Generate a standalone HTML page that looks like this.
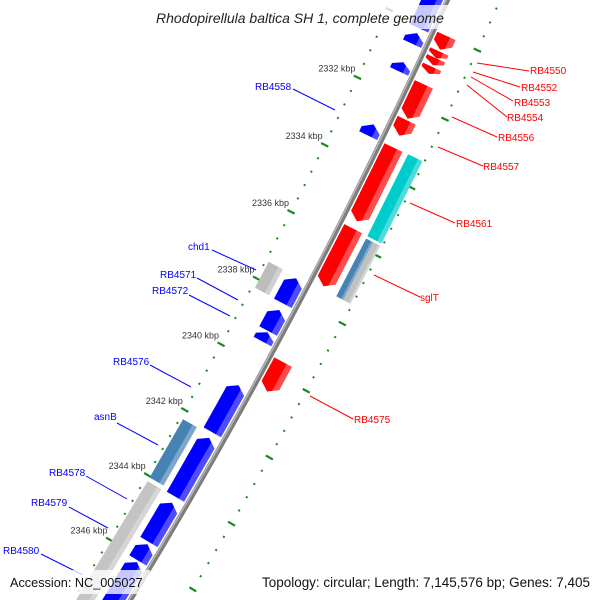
<!DOCTYPE html>
<html><head><meta charset="utf-8"><style>
html,body{margin:0;padding:0;background:#fff;width:600px;height:600px;overflow:hidden;}
svg{display:block;font-family:"Liberation Sans",sans-serif;overflow:hidden;}
</style></head><body>
<svg id="map" width="600" height="600" viewBox="0 0 600 600" xmlns="http://www.w3.org/2000/svg">
<g id="ticks"></g>
<g id="genes"></g>
<g id="backbone"></g>
<g id="labels"></g>
<rect x="138" y="5" width="324" height="24" fill="#fff" opacity="0.78"/>
<text x="300" y="23" text-anchor="middle" font-size="14" font-style="italic" fill="#222">Rhodopirellula baltica SH 1, complete genome</text>
<rect x="4" y="570" width="146" height="24" fill="#fff" opacity="0.78"/>
<text x="10" y="587" font-size="12.7" fill="#111">Accession: NC_005027</text>
<rect x="256" y="570" width="340" height="24" fill="#fff" opacity="0.78"/>
<text x="262" y="587" font-size="13.4" textLength="328" lengthAdjust="spacingAndGlyphs" fill="#111">Topology: circular; Length: 7,145,576 bp; Genes: 7,405</text>
</svg>
<script>
// data (kbp)
const fwdGenes = [[2330.0,2330.4],[2330.45,2330.65],[2330.65,2330.85],[2330.9,2331.1],[2331.41,2332.41],[2332.46,2332.91],[2333.26,2335.43],[2335.65,2337.36],[2339.63,2340.51]];
const revGenes = [[2328.5,2330.12],[2330.26,2330.57],[2331.11,2331.38],[2332.94,2333.27],[2337.51,2338.26],[2338.46,2339.09],[2339.13,2339.41],[2340.73,2342.16],[2342.33,2344.13],[2344.31,2345.52],[2345.59,2346.09],[2346.14,2347.8]];
const outerFeatStart = [2333.25, 2335.73, 2335.73];
const outerFeatEnd = [2335.66, 2337.44, 2337.44];
const outerFeatColor = ["#00cccc", "#4682b4", "#c0c0c0"];
const outerFeatBand = [0, 1, 2];
const innerFeatStart = [2337.46, 2342.24, 2344.14];
const innerFeatEnd = [2338.24, 2344.03, 2348.6];
const innerFeatColor = ["#bdbdbd", "#4682b4", "#c4c4c4"];
const tickLabels = [2332, 2334, 2336, 2338, 2340, 2342, 2344, 2346];
const labelNames = ["RB4550","RB4552","RB4553","RB4554","RB4556","RB4557","RB4561","sglT","RB4575","RB4558","chd1","RB4571","RB4572","RB4576","asnB","RB4578","RB4579","RB4580"];
const labelStrand = ["f","f","f","f","f","f","f","f","f","r","r","r","r","r","r","r","r","r"];

const NS='http://www.w3.org/2000/svg';
const CX=-4705, CY=-2340, R0=5659, TH0=0.4455, DTH=0.00668;
function th(k){return TH0+(k-2332)*DTH;}
function pt(k,r){const t=th(k);return [CX+r*Math.cos(t), CY+r*Math.sin(t)];}
function mk(tag,attrs,parent){const e=document.createElementNS(NS,tag);for(const a in attrs)e.setAttribute(a,attrs[a]);parent.appendChild(e);return e;}
function arcPath(k1,k2,r){let d='';const n=30;for(let i=0;i<=n;i++){const p=pt(k1+(k2-k1)*i/n,r);d+=(i?'L':'M')+p[0].toFixed(1)+' '+p[1].toFixed(1);}return d;}
function gene(k1,k2,r1,r2,dir,color,parent,name){
  const len=k2-k1, tip=Math.min(0.18,len*0.55);
  let pts=[];
  const rm=(r1+r2)/2;
  if(dir>0){pts=[pt(k1,r1),pt(k1,r2),pt(k2-tip,r2),pt(k2,rm),pt(k2-tip,r1)];}
  else if(dir<0){pts=[pt(k1,rm),pt(k1+tip,r2),pt(k2,r2),pt(k2,r1),pt(k1+tip,r1)];}
  else{pts=[pt(k1,r1),pt(k1,r2),pt(k2,r2),pt(k2,r1)];}
  const e=mk('polygon',{points:pts.map(p=>p[0].toFixed(1)+','+p[1].toFixed(1)).join(' '),fill:color},parent);
  
  
  const hr1=r2-(r2-r1)*0.3;
  let hp;
  if(dir>0) hp=[pt(k1,hr1),pt(k1,r2),pt(k2-tip,r2),pt(k2-tip*0.3,hr1)];
  else if(dir<0) hp=[pt(k1+tip*0.3,hr1),pt(k1+tip,r2),pt(k2,r2),pt(k2,hr1)];
  else hp=[pt(k1,hr1),pt(k1,r2),pt(k2,r2),pt(k2,hr1)];
  const h=mk('polygon',{points:hp.map(p=>p[0].toFixed(1)+','+p[1].toFixed(1)).join(' '),fill:'#fff',opacity:'0.3'},parent);
  
  
}
const gG=document.getElementById('genes');
fwdGenes.forEach((g,i)=>gene(g[0],g[1],R0+4,R0+24,1,'#ff0000',gG,'forward-gene-'+i));
revGenes.forEach((g,i)=>gene(g[0],g[1],R0-24,R0-4,-1,'#0000ff',gG,'reverse-gene-'+i));
outerFeatStart.forEach((s,i)=>{
  const b=outerFeatBand[i];
  const r1=b===0?R0+30:(b===1?R0+30:R0+38), r2=b===0?R0+46:(b===1?R0+38:R0+46);
  gene(s,outerFeatEnd[i],r1,r2,0,outerFeatColor[i],gG,'outer-feature-'+i);
});
innerFeatStart.forEach((s,i)=>gene(s,innerFeatEnd[i],R0-46,R0-30,0,innerFeatColor[i],gG,'inner-feature-'+i));

const gB=document.getElementById('backbone');
let b1=mk('path',{d:arcPath(2328,2348,R0),stroke:'#7d7d7d','stroke-width':5,fill:'none'},gB);


let b2=mk('path',{d:arcPath(2328,2348,R0-1.3),stroke:'#b5b5b5','stroke-width':1.5,fill:'none'},gB);



const gT=document.getElementById('ticks');
[R0+48,R0-49].forEach((r)=>{
  for(let i=0;i<=50;i++){
    const k=2328+i*0.4;
    const major=Math.abs(k/2-Math.round(k/2))<0.01;
    const L=major?4:1;
    const a=pt(k,r-L),c=pt(k,r+L);
    const e=mk('line',{x1:a[0],y1:a[1],x2:c[0],y2:c[1],stroke:'#1a8a1a','stroke-width':major?2.2:2},gT);
    
    
  }
});
tickLabels.forEach(k=>{
  const p=pt(k,R0-49);
  const t=mk('text',{x:p[0]-2,y:p[1]-6,'text-anchor':'end','font-size':9,fill:'#333'},gT);
  t.textContent=k+' kbp';
  
  
});

const gL=document.getElementById('labels');
{
  const lt=[[530,74],[521,91],[514,106],[507,121],[498,141],[483,170],[456,227],[420,301],[354,423],[255,90],[188,250],[160,278],[152,294],[113,365],[94,420],[49,476],[31,506],[3,554]];
  const ll=[[529,71,477,63],[520,87,473,72],[513,101,471,77],[507,117,467,85],[497,137,452,117],[483,166,438,147],[455,223,410,203],[420,297,374,275],[353,419,310,396],[293,89,335,110],[212,250,256,270],[197,278,238,300],[189,295,230,316],[150,365,191,387],[117,423,158,445],[86,476,127,499],[69,507,108,528],[41,554,83,575]];
  labelNames.forEach((n,i)=>{
    const col=labelStrand[i]==='f'?'#ff0000':'#0000ff';
    const l=ll[i];
    const ln=mk('line',{x1:l[0],y1:l[1],x2:l[2],y2:l[3],stroke:col,'stroke-width':1},gL);
    
    
    const t=mk('text',{x:lt[i][0],y:lt[i][1],'font-size':10,fill:col},gL);
    t.textContent=n;
    
    
  });
}
</script>
</body></html>
